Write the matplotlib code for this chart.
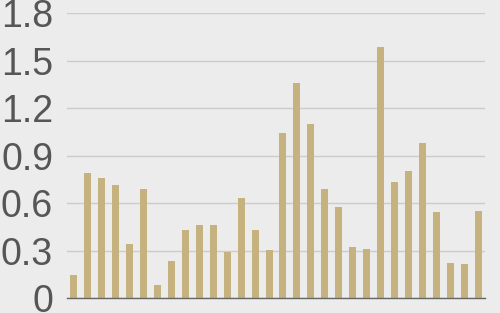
import matplotlib
matplotlib.use("Agg")
import matplotlib.pyplot as plt
import numpy as np

# valeurs
values = [0.147, 0.79, 0.76, 0.716, 0.343, 0.69, 0.084, 0.236, 0.432, 0.463,
          0.463, 0.293, 0.634, 0.432, 0.305, 1.044, 1.36, 1.10, 0.69, 0.577,
          0.324, 0.312, 1.587, 0.735, 0.804, 0.981, 0.545, 0.223, 0.217, 0.552]
yticks = [0, 0.3, 0.6, 0.9, 1.2, 1.5, 1.8]
ytick_labels = ["0", "0.3", "0.6", "0.9", "1.2", "1.5", "1.8"]

bg = "#ececec"
fig = plt.figure(figsize=(5, 3.13), dpi=100, facecolor=bg)
ax = fig.add_axes([0.134, 0.047, 0.836, 0.9105], facecolor=bg)

x = np.arange(len(values))
ax.bar(x, values, width=0.5, color="#c6b27e", zorder=3)

ax.set_xlim(-0.5, len(values) - 0.5)
ax.set_ylim(0, 1.8)
ax.set_yticks(yticks)
ax.set_yticklabels(ytick_labels, fontsize=27, color="#565656", family="Liberation Sans")
ax.set_xticks([])
ax.tick_params(axis="y", length=0, pad=10)
ax.grid(axis="y", color="#cccccc", linewidth=1, zorder=0)

for s in ["top", "right", "left"]:
    ax.spines[s].set_visible(False)
ax.spines["bottom"].set_color("#666666")
ax.spines["bottom"].set_linewidth(1)
ax.spines["bottom"].set_zorder(4)

fig.savefig("out.png", dpi=100, facecolor=bg)
